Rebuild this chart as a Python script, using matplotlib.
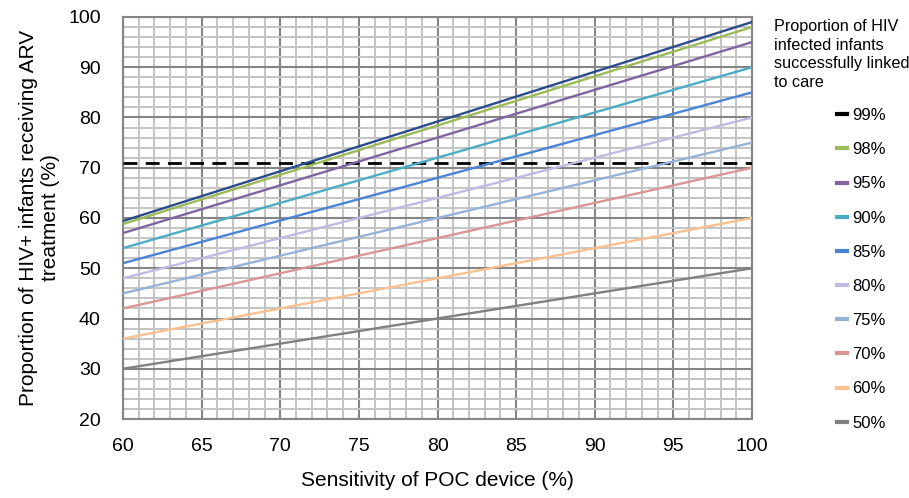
import matplotlib
matplotlib.use("Agg")
import matplotlib.pyplot as plt
from matplotlib.lines import Line2D

plt.rcParams['font.family'] = ['Liberation Sans', 'DejaVu Sans']

# Data
sensitivity = [60, 100]
series_labels = ["99%", "98%", "95%", "90%", "85%", "80%", "75%", "70%", "60%", "50%"]
series_values = {
    "99%": [59.4, 99.0],
    "98%": [58.8, 98.0],
    "95%": [57.0, 95.0],
    "90%": [54.0, 90.0],
    "85%": [51.0, 85.0],
    "80%": [48.0, 80.0],
    "75%": [45.0, 75.0],
    "70%": [42.0, 70.0],
    "60%": [36.0, 60.0],
    "50%": [30.0, 50.0],
}
threshold = 71
x_ticks = [60, 65, 70, 75, 80, 85, 90, 95, 100]
y_ticks = [20, 30, 40, 50, 60, 70, 80, 90, 100]

line_colors = {
    "99%": "#2b4c8c", "98%": "#9bbb59", "95%": "#8064a2", "90%": "#4bacc6",
    "85%": "#4a84d6", "80%": "#c3b9e0", "75%": "#95b3d7", "70%": "#d99694",
    "60%": "#fac090", "50%": "#808080",
}
legend_colors = dict(line_colors)
legend_colors["99%"] = "#000000"

fig = plt.figure(figsize=(9.09, 4.98), dpi=100)
ax = fig.add_axes([0.1353, 0.1586, 0.692, 0.8073])

ax.set_xlim(60, 100)
ax.set_ylim(20, 100)
ax.set_xticks(x_ticks)
ax.set_yticks(y_ticks)
ax.set_xticks(range(60, 101, 1), minor=True)
ax.set_yticks(range(20, 101, 2), minor=True)
ax.grid(which='minor', color='#c4c4c4', linewidth=1.4)
ax.grid(which='major', color='#858585', linewidth=1.5)
ax.set_axisbelow(True)
for s in ax.spines.values():
    s.set_color('#858585')
    s.set_linewidth(1.5)
ax.tick_params(which='both', length=0, labelsize=14)
ax.tick_params(axis='x', pad=14)
ax.tick_params(axis='y', pad=16)

ax.axhline(threshold, color='black', linewidth=2, dashes=(5, 3), zorder=3)
for lab in series_labels:
    ax.plot(sensitivity, series_values[lab], color=line_colors[lab], linewidth=1.7, zorder=4)

ax.set_xlabel("Sensitivity of POC device (%)", fontsize=15, labelpad=11)
ax.set_ylabel("Proportion of HIV+ infants receiving ARV\ntreatment (%)", fontsize=15, labelpad=6)

fig.text(0.852, 0.962, "Proportion of HIV\ninfected infants\nsuccessfully linked\nto care",
         fontsize=11.7, va='top', ha='left', linespacing=1.3)

handles = [Line2D([0], [0], color=legend_colors[l], linewidth=3) for l in series_labels]
fig.legend(handles, series_labels, loc='upper left', bbox_to_anchor=(0.921, 0.783),
           frameon=False, fontsize=12, handlelength=0.6, handletextpad=0.3,
           labelspacing=1.15, borderaxespad=0, borderpad=0)

fig.savefig("out.png", dpi=100)
